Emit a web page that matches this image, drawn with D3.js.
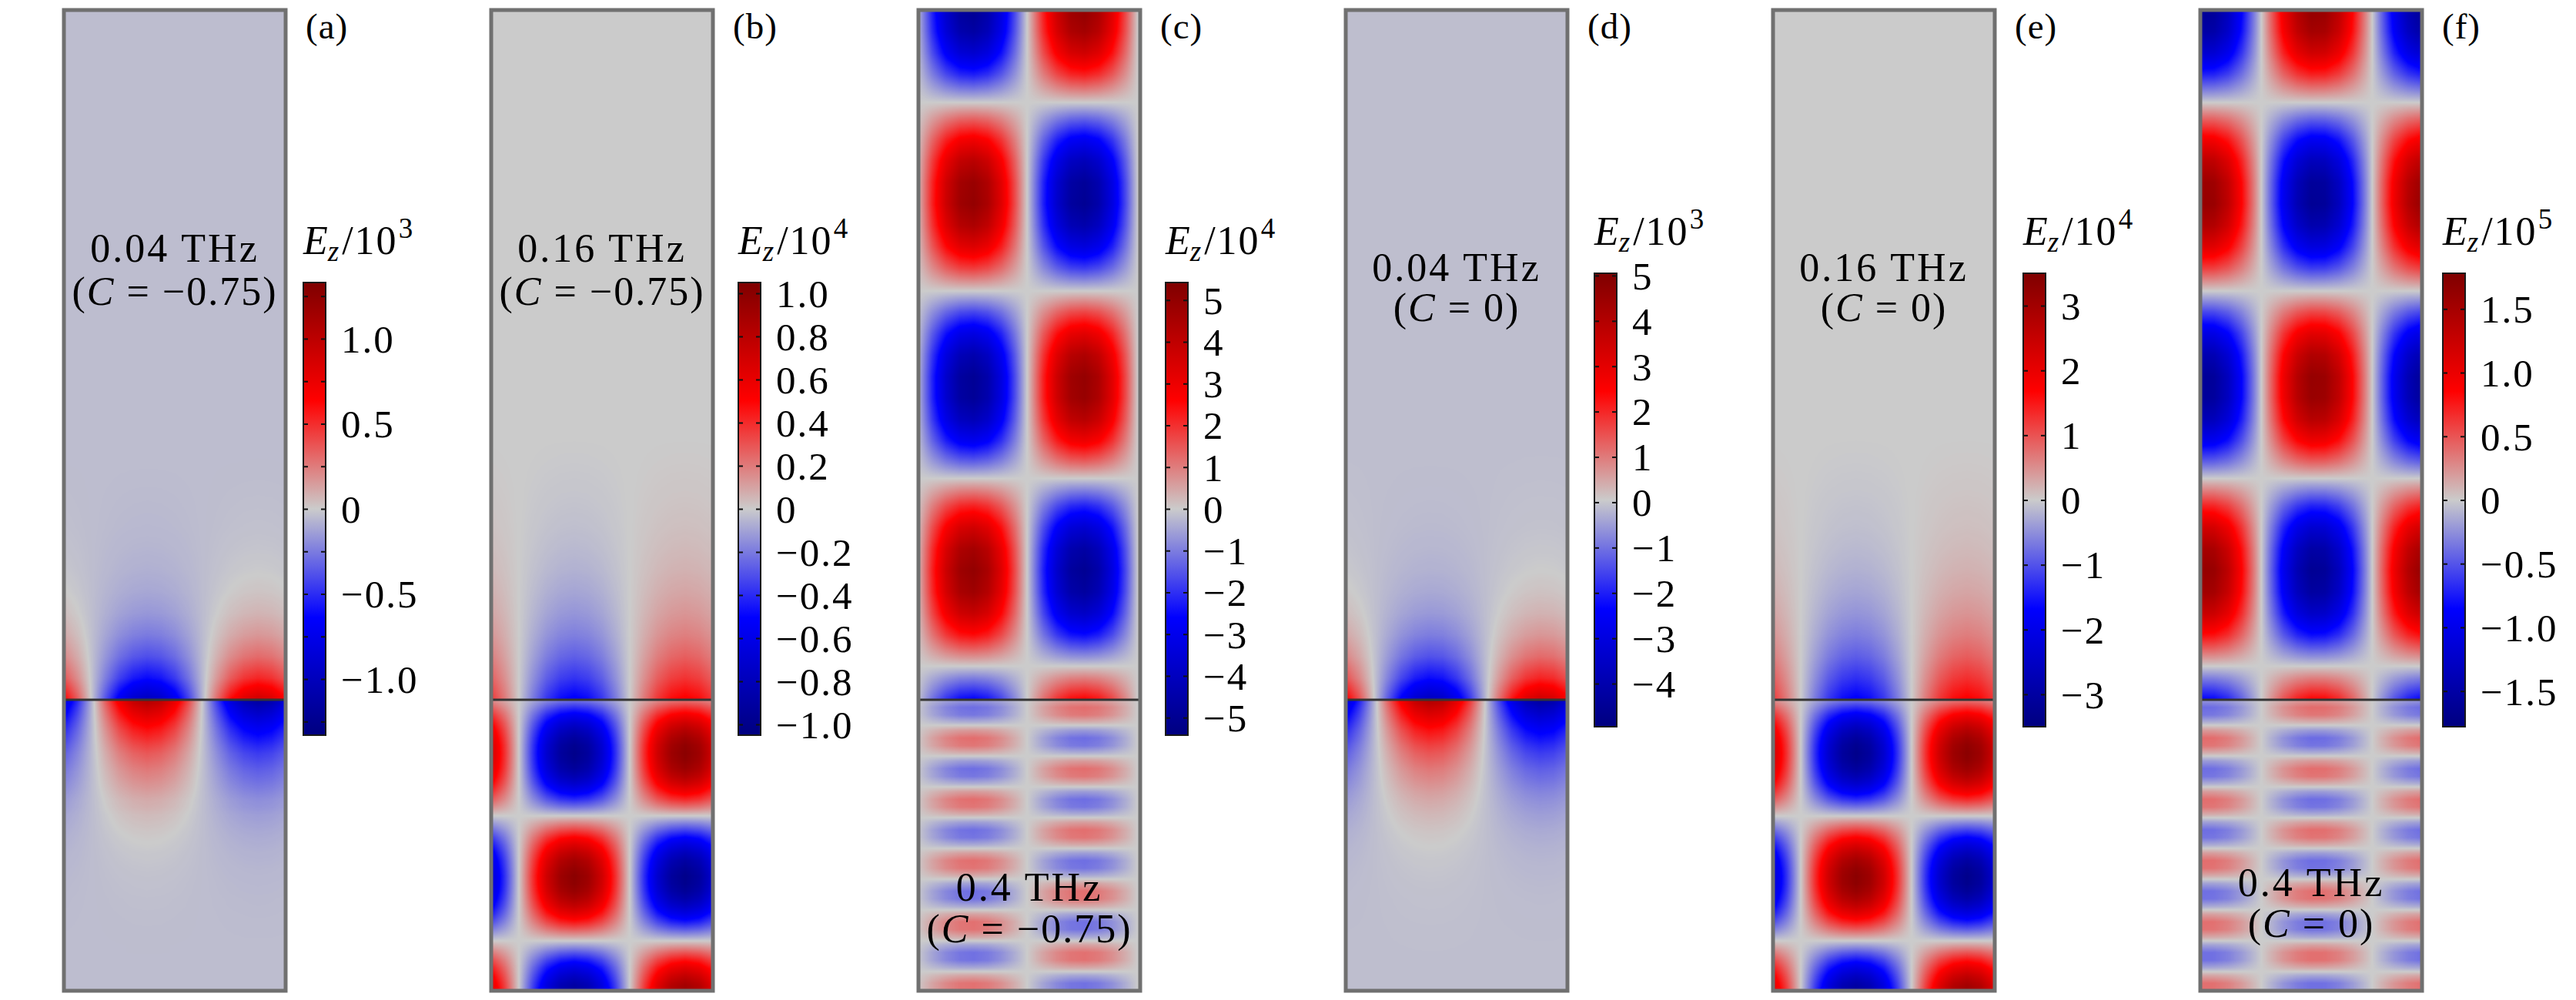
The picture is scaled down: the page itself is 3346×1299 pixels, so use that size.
<!DOCTYPE html>
<html>
<head>
<meta charset="utf-8">
<script src="https://cdn.jsdelivr.net/npm/d3@7"></script>
<style>
  html, body { margin: 0; padding: 0; background: #fff; }
  svg text { font-family: "Liberation Serif", "Times New Roman", serif; fill: #000; }
</style>
</head>
<body>
<svg id="fig" width="3346" height="1299"></svg>
<script>
// ---------- data ----------
const panelIds = ["a", "b", "c", "d", "e", "f"];
const freqLabels = ["0.04 THz", "0.16 THz", "0.4 THz", "0.04 THz", "0.16 THz", "0.4 THz"];
const cValues = ["\u22120.75", "\u22120.75", "\u22120.75", "0", "0", "0"];
const scaleExps = ["3", "4", "4", "3", "4", "5"];

// colour-bar limits (E_z in units of 10^n)
const cbarRanges = [[-1.33, 1.33], [-1.05, 1.05], [-5.42, 5.42], [-4.95, 5.05], [-3.5, 3.5], [-1.78, 1.78]];
const cbarTicks = [
  [-1.25, -1, -0.75, -0.5, -0.25, 0, 0.25, 0.5, 0.75, 1, 1.25],
  [-1, -0.8, -0.6, -0.4, -0.2, 0, 0.2, 0.4, 0.6, 0.8, 1],
  [-5, -4, -3, -2, -1, 0, 1, 2, 3, 4, 5],
  [-4, -3, -2, -1, 0, 1, 2, 3, 4, 5],
  [-3, -2, -1, 0, 1, 2, 3],
  [-1.5, -1, -0.5, 0, 0.5, 1, 1.5]
];
const cbarLabelValues = [
  [-1, -0.5, 0, 0.5, 1],
  [-1, -0.8, -0.6, -0.4, -0.2, 0, 0.2, 0.4, 0.6, 0.8, 1],
  [-5, -4, -3, -2, -1, 0, 1, 2, 3, 4, 5],
  [-4, -3, -2, -1, 0, 1, 2, 3, 4, 5],
  [-3, -2, -1, 0, 1, 2, 3],
  [-1.5, -1, -0.5, 0, 0.5, 1, 1.5]
];
const cbarDecimals = [1, 1, 0, 0, 0, 1];

// uniform background level of each field
const fieldOffsets = [-0.045, 0, 0, -0.1, 0, 0];

// lateral profile, 17 samples from left edge to right edge
const xProfA = [-0.73, -0.41, -0.03, 0.35, 0.69, 0.91, 1, 0.93, 0.73, 0.41, 0.03, -0.35, -0.69, -0.91, -1, -0.93, -0.73];
const xProfB = [-0.71, -0.38, 0, 0.38, 0.71, 0.92, 1, 0.92, 0.71, 0.38, 0, -0.38, -0.71, -0.92, -1, -0.92, -0.71];
const xProfC = [-0.06, -0.44, -0.75, -0.95, -1, -0.9, -0.66, -0.32, 0.06, 0.44, 0.75, 0.95, 1, 0.9, 0.66, 0.32, -0.06];
const xProfD = [-0.75, -0.44, -0.06, 0.32, 0.66, 0.9, 1, 0.95, 0.75, 0.44, 0.06, -0.32, -0.66, -0.9, -1, -0.95, -0.75];
const xProfE = [-0.71, -0.38, 0, 0.38, 0.71, 0.92, 1, 0.92, 0.71, 0.38, 0, -0.38, -0.71, -0.92, -1, -0.92, -0.71];
const xProfF = [-0.99, -0.97, -0.81, -0.52, -0.16, 0.23, 0.59, 0.85, 0.99, 0.97, 0.81, 0.52, 0.16, -0.23, -0.59, -0.85, -0.99];

// vertical profile above the interface, 33 samples from top edge down to the interface
const upperA = [0, 0, 0, 0, 0, 0, 0, 0, 0, 0, 0, 0, 0, 0, 0, 0, 0, 0, 0, 0, 0,
  -0.001, -0.004, -0.008, -0.013, -0.024, -0.04, -0.069, -0.12, -0.21, -0.35, -0.57, -0.96];
const upperB = [0, 0, 0, 0, 0, 0, 0, 0, 0, 0, 0, 0, 0, 0, 0, 0, 0, 0, 0, 0,
  -0.002, -0.006, -0.012, -0.02, -0.03, -0.045, -0.065, -0.095, -0.135, -0.19, -0.27, -0.38, -0.53];
const upperC = [5.0, 4.63, 3.66, 2.23, 0.51, -1.27, -2.89, -4.14, -4.86, -4.97, -4.43, -3.34, -1.82, -0.06,
  1.7, 3.24, 4.38, 4.95, 4.89, 4.2, 2.97, 1.32, -0.48, -2.19, -3.63, -4.61, -4.99, -4.73, -3.85, -2.49, -0.78, 1.0, 2.65];
const upperD = [0, 0, 0, 0, 0, 0, 0, 0, 0, 0, 0, 0, 0, 0, 0, 0, 0, 0, 0, 0, 0,
  -0.005, -0.015, -0.03, -0.05, -0.09, -0.15, -0.26, -0.45, -0.78, -1.3, -2.15, -3.6];
const upperE = [0, 0, 0, 0, 0, 0, 0, 0, 0, 0, 0, 0, 0, 0, 0, 0, 0, 0, 0, 0,
  -0.007, -0.02, -0.04, -0.07, -0.1, -0.15, -0.22, -0.32, -0.46, -0.65, -0.92, -1.3, -1.75];
const upperF = [1.65, 1.53, 1.21, 0.73, 0.17, -0.42, -0.95, -1.36, -1.6, -1.64, -1.46, -1.1, -0.6, -0.02,
  0.56, 1.07, 1.44, 1.63, 1.61, 1.39, 0.98, 0.44, -0.16, -0.72, -1.2, -1.52, -1.65, -1.56, -1.27, -0.82, -0.26, 0.33, 0.87];

// vertical profile below the interface, 39 samples from the interface down to the bottom edge
const lowerA = [1.13, 0.98, 0.86, 0.74, 0.64, 0.56, 0.48, 0.41, 0.36, 0.31, 0.27, 0.23, 0.19, 0.15, 0.13, 0.10,
  0.084, 0.067, 0.053, 0.043, 0.033, 0.027, 0.021, 0.017, 0.013, 0.011, 0.008, 0.007, 0.005, 0.004, 0.003,
  0.002, 0.001, 0.001, 0, 0, 0, 0, 0];
const lowerB = [-0.21, -0.39, -0.56, -0.71, -0.83, -0.92, -0.98, -1.0, -0.98, -0.93, -0.84, -0.72, -0.57, -0.41,
  -0.23, -0.03, 0.16, 0.34, 0.52, 0.67, 0.8, 0.9, 0.96, 1.0, 0.99, 0.95, 0.87, 0.76, 0.62, 0.46, 0.28, 0.09,
  -0.1, -0.29, -0.47, -0.63, -0.76, -0.87, -0.94];
const lowerC = [0.65, 1.21, 1.08, 0.31, -0.64, -1.21, -1.09, -0.33, 0.61, 1.2, 1.09, 0.35, -0.6, -1.2, -1.1,
  -0.37, 0.58, 1.19, 1.11, 0.39, -0.56, -1.19, -1.12, -0.41, 0.55, 1.18, 1.14, 0.43, -0.53, -1.16, -1.14,
  -0.45, 0.51, 1.16, 1.15, 0.46, -0.49, -1.15, -1.15];
const lowerD = [4.25, 3.7, 3.25, 2.8, 2.4, 2.1, 1.8, 1.55, 1.35, 1.15, 1.0, 0.85, 0.7, 0.58, 0.48, 0.39, 0.32,
  0.25, 0.2, 0.16, 0.125, 0.1, 0.08, 0.065, 0.05, 0.04, 0.03, 0.025, 0.02, 0.015, 0.01, 0.008, 0.005, 0.003,
  0, 0, 0, 0, 0];
const lowerE = [-0.7, -1.31, -1.88, -2.37, -2.77, -3.07, -3.26, -3.33, -3.27, -3.09, -2.79, -2.4, -1.91, -1.36,
  -0.75, -0.12, 0.53, 1.14, 1.72, 2.23, 2.66, 3.0, 3.22, 3.32, 3.3, 3.15, 2.89, 2.52, 2.06, 1.52, 0.93, 0.3,
  -0.34, -0.97, -1.56, -2.09, -2.54, -2.9, -3.15];
const lowerF = [0.22, 0.41, 0.36, 0.1, -0.21, -0.41, -0.37, -0.11, 0.21, 0.4, 0.37, 0.12, -0.2, -0.4, -0.37,
  -0.13, 0.19, 0.4, 0.37, 0.13, -0.19, -0.4, -0.38, -0.14, 0.18, 0.39, 0.38, 0.14, -0.18, -0.39, -0.38,
  -0.15, 0.17, 0.39, 0.39, 0.16, -0.16, -0.39, -0.39];

const xProfiles = [xProfA, xProfB, xProfC, xProfD, xProfE, xProfF];
const upperProfiles = [upperA, upperB, upperC, upperD, upperE, upperF];
const lowerProfiles = [lowerA, lowerB, lowerC, lowerD, lowerE, lowerF];

// "wave" colour table
const cmapStops = [0, 0.26, 0.5, 0.74, 1];
const cmapColors = ["#00007f", "#0000ff", "#cbcbcb", "#ff0000", "#7f0000"];

// ---------- layout ----------
const panelW = 288, panelTop = 13, panelBottom = 1287, interfaceY = 909;
const panelLeft = panelIds.map((d, i) => 83 + i * 555);
const cbarX = [394, 959, 1514, 2071, 2628, 3173];
const cbarW = 29;
const cbarTop = [367, 367, 367, 355, 355, 355];
const cbarBottom = [955, 955, 955, 944, 944, 944];
const titleY = [330, 330, 330, 318, 318, 318];
const line1Y = [340, 340, 1170, 365, 365, 1164];
const line2Y = [396, 396, 1224, 417, 417, 1217];

const svg = d3.select("#fig");
const defs = svg.append("defs");

// pixel image of one field panel
function fieldImage(i) {
  const W = panelW, H = panelBottom - panelTop, iface = interfaceY - panelTop;
  const [lo, hi] = cbarRanges[i];
  const color = d3.scaleLinear()
    .domain(cmapStops.map(t => lo + t * (hi - lo)))
    .range(cmapColors)
    .clamp(true);
  const lut = d3.range(1024).map(k => d3.rgb(color(lo + (hi - lo) * k / 1023)));
  const lutIndex = d3.scaleLinear().domain([lo, hi]).range([0, 1023]).clamp(true);

  const xp = xProfiles[i], up = upperProfiles[i], lp = lowerProfiles[i];
  const xs = d3.scaleLinear().domain(xp.map((_, k) => k / (xp.length - 1))).range(xp);
  const us = d3.scaleLinear().domain(up.map((_, k) => k / (up.length - 1))).range(up);
  const ls = d3.scaleLinear().domain(lp.map((_, k) => k / (lp.length - 1))).range(lp);
  const pxToU = d3.scaleLinear().domain([0, W]).range([0, 1]);
  const pyUpper = d3.scaleLinear().domain([0, iface]).range([0, 1]);
  const pyLower = d3.scaleLinear().domain([iface, H]).range([0, 1]);

  const canvas = document.createElement("canvas");
  canvas.width = W;
  canvas.height = H;
  const ctx = canvas.getContext("2d");
  const img = ctx.createImageData(W, H);
  const xVals = d3.range(W).map(px => xs(pxToU(px + 0.5)));
  for (let py = 0; py < H; py++) {
    const y = py + 0.5;
    const yv = y < iface ? us(pyUpper(y)) : ls(pyLower(y));
    for (let px = 0; px < W; px++) {
      const v = fieldOffsets[i] + xVals[px] * yv;
      const c = lut[Math.round(lutIndex(v))];
      const o = (py * W + px) * 4;
      img.data[o] = c.r;
      img.data[o + 1] = c.g;
      img.data[o + 2] = c.b;
      img.data[o + 3] = 255;
    }
  }
  ctx.putImageData(img, 0, 0);
  return canvas.toDataURL("image/png");
}

function tickText(v, dec) {
  if (v === 0) return "0";
  return (v < 0 ? "\u2212" : "") + Math.abs(v).toFixed(dec);
}

panelIds.forEach((id, i) => {
  const x0 = panelLeft[i];
  const g = svg.append("g").attr("class", "panel-" + id);

  // field map
  g.append("image")
    .attr("href", fieldImage(i))
    .attr("x", x0)
    .attr("y", panelTop)
    .attr("width", panelW)
    .attr("height", panelBottom - panelTop)
    .attr("preserveAspectRatio", "none");

  // interface line
  g.append("line")
    .attr("x1", x0).attr("x2", x0 + panelW)
    .attr("y1", interfaceY).attr("y2", interfaceY)
    .attr("stroke", "#353535")
    .attr("stroke-width", 3);

  // frame
  g.append("rect")
    .attr("x", x0).attr("y", panelTop)
    .attr("width", panelW).attr("height", panelBottom - panelTop)
    .attr("fill", "none")
    .attr("stroke", "#707070")
    .attr("stroke-width", 5);

  // frequency / C annotation
  const cx = x0 + panelW / 2;
  g.append("text")
    .attr("x", cx).attr("y", line1Y[i])
    .attr("text-anchor", "middle")
    .attr("font-size", 52)
    .attr("letter-spacing", 3)
    .text(freqLabels[i]);
  const t2 = g.append("text")
    .attr("x", cx).attr("y", line2Y[i])
    .attr("text-anchor", "middle")
    .attr("font-size", 52)
    .attr("letter-spacing", 2);
  t2.append("tspan").text("(");
  t2.append("tspan").attr("font-style", "italic").text("C");
  t2.append("tspan").text(" = " + cValues[i] + ")");

  // panel letter
  g.append("text")
    .attr("x", x0 + 314).attr("y", 50)
    .attr("font-size", 47)
    .attr("letter-spacing", 1)
    .text("(" + id + ")");

  // colour bar
  const [lo, hi] = cbarRanges[i];
  const grad = defs.append("linearGradient")
    .attr("id", "cb-" + id)
    .attr("x1", 0).attr("y1", 1).attr("x2", 0).attr("y2", 0);
  grad.selectAll("stop")
    .data(cmapStops)
    .enter()
    .append("stop")
    .attr("offset", d => d)
    .attr("stop-color", (d, k) => cmapColors[k]);

  const cy = d3.scaleLinear().domain([lo, hi]).range([cbarBottom[i], cbarTop[i]]);
  g.append("rect")
    .attr("x", cbarX[i]).attr("y", cbarTop[i])
    .attr("width", cbarW).attr("height", cbarBottom[i] - cbarTop[i])
    .attr("fill", "url(#cb-" + id + ")");

  const labelled = new Set(cbarLabelValues[i]);
  const axR = g.append("g")
    .attr("transform", `translate(${cbarX[i] + cbarW},0)`)
    .call(d3.axisRight(cy)
      .tickValues(cbarTicks[i])
      .tickSize(-6)
      .tickPadding(20)
      .tickFormat(v => labelled.has(v) ? tickText(v, cbarDecimals[i]) : ""));
  axR.attr("font-family", null).attr("font-size", 51);
  axR.select(".domain").remove();
  axR.selectAll(".tick line").attr("stroke", "#111").attr("stroke-width", 2);
  axR.selectAll(".tick text").attr("letter-spacing", 2).attr("dy", "0.34em");

  const axL = g.append("g")
    .attr("transform", `translate(${cbarX[i]},0)`)
    .call(d3.axisLeft(cy).tickValues(cbarTicks[i]).tickSize(-6).tickFormat(""));
  axL.select(".domain").remove();
  axL.selectAll(".tick line").attr("stroke", "#111").attr("stroke-width", 2);

  g.append("rect")
    .attr("x", cbarX[i]).attr("y", cbarTop[i])
    .attr("width", cbarW).attr("height", cbarBottom[i] - cbarTop[i])
    .attr("fill", "none")
    .attr("stroke", "#1a1a1a")
    .attr("stroke-width", 2);

  // colour bar title  E_z / 10^n
  const tt = g.append("text")
    .attr("x", cbarX[i]).attr("y", titleY[i])
    .attr("font-size", 52);
  tt.append("tspan").attr("font-style", "italic").text("E");
  tt.append("tspan").attr("font-style", "italic").attr("font-size", 37).attr("dy", 9).text("z");
  tt.append("tspan").attr("dy", -9).attr("dx", 4).attr("letter-spacing", 2).text("/10");
  tt.append("tspan").attr("font-size", 37).attr("dy", -21).attr("dx", 1).text(scaleExps[i]);
});
</script>
</body>
</html>
